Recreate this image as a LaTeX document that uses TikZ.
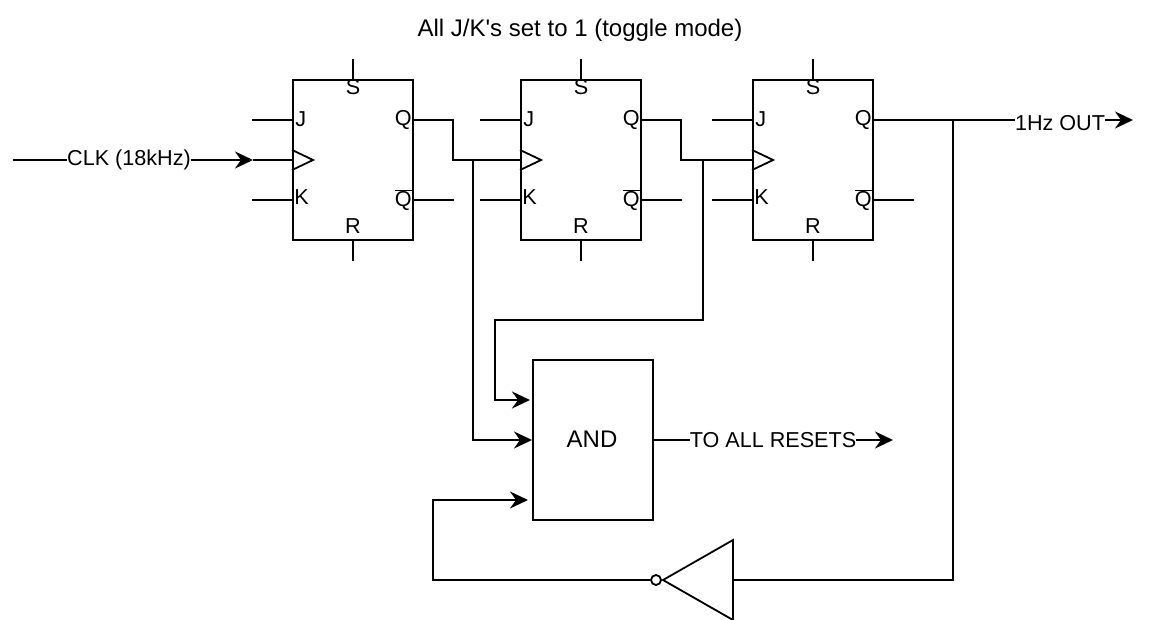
\documentclass[tikz,border=0pt]{standalone}
\usepackage{fontspec}
\setmainfont{Liberation Sans}
\usetikzlibrary{arrows.meta}
\tikzset{
	wire/.style={line width=1.8},
	sig/.style={wire,-{Stealth[length=18,width=17,inset=6]}},
	ffbox/.style={draw,line width=1.8,minimum width=120,minimum height=160,inner sep=0},
	andbox/.style={ffbox,font=\fontsize{24}{28}\selectfont},
	pin/.style={inner sep=0,font=\fontsize{21.6}{26}\selectfont},
	lbl/.style={inner sep=0,fill=white,font=\fontsize{21.6}{26}\selectfont},
	bubble/.style={draw,line width=1.8,circle,minimum size=10,inner sep=0,fill=white},
}
\newcommand{\qbar}{$\overline{\mbox{Q}}$}
% one flip-flop with its stubs; #1 name, #2 centre x
\newcommand{\flipflop}[2]{
	\node [ffbox] (#1) at (#2,160) {};
	\draw [wire] (#1.north) -- ++(0,-20);
	\draw [wire] (#1.south) -- ++(0,20);
	\draw [wire] ([yshift=40]#1.west) -- ++(-40,0);
	\draw [wire] ([yshift=-40]#1.west) -- ++(-40,0);
	\draw [wire] ([yshift=40]#1.east) -- ++(40,0);
	\draw [wire] ([yshift=-40]#1.east) -- ++(40,0);
	\draw [wire] ([yshift=10]#1.west) -- ++(21,10) -- ++(-21,10);
	\node [pin] at ([yshift=-8]#1.north) {S};
	\node [pin] at ([yshift=15]#1.south) {R};
	\node [pin,anchor=west] at ([xshift=3,yshift=41]#1.west) {J};
	\node [pin,anchor=west] at ([xshift=2,yshift=-37]#1.west) {K};
	\node [pin,anchor=east] at ([xshift=-2,yshift=40]#1.east) {Q};
	\node [pin,anchor=east] at ([xshift=-2,yshift=-40]#1.east) {\qbar};
}
\begin{document}
\begin{tikzpicture}[x=1pt,y=-1pt]
	\useasboundingbox (0,0) rectangle (1150,620);
	\flipflop{ffa}{353}
	\flipflop{ffb}{581}
	\flipflop{ffc}{813}
	\node [andbox] (gate) at (593,440) {};
	\node [pin,font=\fontsize{24}{28}\selectfont] (gatetext) at (592,439) {AND};
	\node [pin,font=\fontsize{24}{28}\selectfont] (title) at (580,30) {All J/K\textquotesingle s set to 1 (toggle mode)};
	% inverter
	\coordinate (invtop) at (733,540);
	\coordinate (invbot) at (733,620);
	\coordinate (invtip) at (663,580);
	\coordinate (invin) at (733,580);
	\draw [wire,line join=miter] (invtop) -- (invbot) -- (invtip) -- cycle;
	\node [bubble] (invout) at (656,580) {};
	% free ends of the wires
	\coordinate (clkstart) at (13,160);
	\coordinate (clkend) at (253,160);
	\coordinate (clkpin) at (293,160);
	\coordinate (qa) at (453,120);
	\coordinate (qb) at (681,120);
	\coordinate (qc) at (873,120);
	\coordinate (clkb) at (521,160);
	\coordinate (clkc) at (753,160);
	\coordinate (tapa) at (473,160);
	\coordinate (tapb) at (703,160);
	\coordinate (tapc) at (953,120);
	\coordinate (outend) at (1133,120);
	\coordinate (rstend) at (893,440);
	\coordinate (ina) at (530,400);
	\coordinate (inb) at (532,440);
	\coordinate (inc) at (528,500);
	% wires
	\draw [sig] (clkstart) -- (clkend);
	\draw [wire] (clkend) -- (clkpin);
	\draw [wire] (qa) -- (453,160) -- (clkb);
	\draw [wire] (qb) -- (681,160) -- (clkc);
	\draw [sig] (qc) -- (outend);
	\draw [sig] (tapa) -- (inb -| tapa) -- (inb);
	\draw [sig] (tapb) -- (703,320) -- (495,320) -- (495,400) -- (ina);
	\draw [wire] (tapc) -- (953,580) -- (invin);
	\draw [sig] (invout) -- (433,580) -- (433,500) -- (inc);
	\draw [sig] (gate.east) -- (rstend);
	% labels on the wires
	\node [lbl] at (129,160) {CLK (18kHz)};
	\node [lbl] at (1060,123) {1Hz OUT};
	\node [lbl] at (773,440) {TO ALL RESETS};
\end{tikzpicture}
\end{document}
